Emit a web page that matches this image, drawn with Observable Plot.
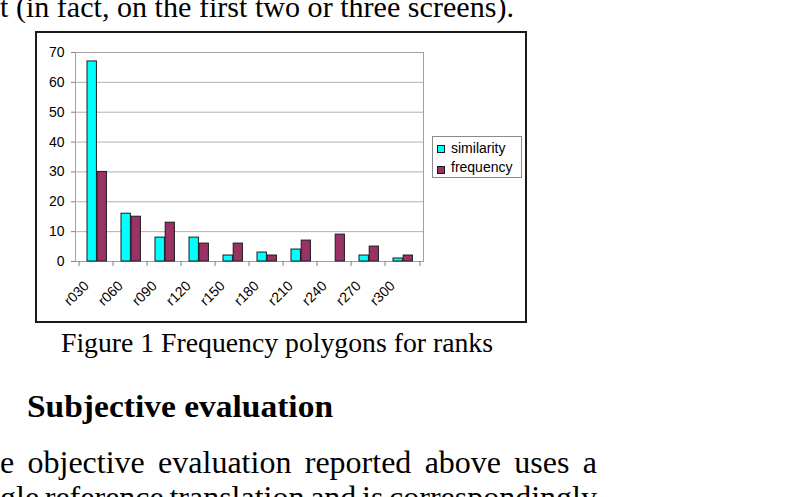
<!DOCTYPE html>
<html>
<head>
<meta charset="utf-8">
<script src="https://cdn.jsdelivr.net/npm/d3@7"></script>
<script src="https://cdn.jsdelivr.net/npm/@observablehq/plot@0.6"></script>
<style>
  html, body { margin: 0; padding: 0; background: #fff; width: 796px; height: 497px; overflow: hidden; position: relative; }
  #page { position: absolute; left: 0; top: 0; }
  #frame { position: absolute; left: 35px; top: 31px; width: 492px; height: 292px; box-sizing: border-box; border: 2px solid #1a1a1a; background: #fff; }
  #chart { position: absolute; left: 0; top: 0; }
  #legend { position: absolute; left: 395px; top: 103px; width: 90px; height: 42px; box-sizing: border-box; border: 1px solid #8a8a8a; background: #fff; font-family: "Liberation Sans", Arial, sans-serif; font-size: 14px; color: #000; }
  #legend .sw { position: absolute; left: 4px; width: 8px; height: 8px; box-sizing: border-box; border: 1px solid #1a1a1a; }
  #legend .lb { position: absolute; left: 18px; line-height: 14px; white-space: nowrap; }
</style>
</head>
<body>
<svg id="page" width="796" height="497"></svg>
<div id="frame"><div id="chart"></div><div id="legend"></div></div>
<script>
// ---- data ----
const categories = ["r030", "r060", "r090", "r120", "r150", "r180", "r210", "r240", "r270", "r300"];
const similarity = [67, 16, 8, 8, 2, 3, 4, 0, 2, 1];
const frequency  = [30, 15, 13, 6, 6, 2, 7, 9, 5, 2];
const seriesNames = ["similarity", "frequency"];
const seriesColors = ["#00FFFF", "#993366"];
const yTicks = [0, 10, 20, 30, 40, 50, 60, 70];

const topLine = "t (in fact, on the first two or three screens).";
const captionText = "Figure 1 Frequency polygons for ranks";
const headingText = "Subjective evaluation";
const bodyLines = ["e objective evaluation reported above uses a", "gle reference translation and is correspondingly"];

// ---- chart ----
const W = 488, H = 288, mL = 38, mR = 102, mT = 19, mB = 60;
const band = (W - mL - mR) / categories.length;

const rows = categories.flatMap((c, i) => [
  {category: c, series: seriesNames[0], value: similarity[i]},
  {category: c, series: seriesNames[1], value: frequency[i]}
]);

const chart = Plot.plot({
  width: W, height: H,
  marginLeft: mL, marginRight: mR, marginTop: mT, marginBottom: mB,
  style: {fontFamily: "'Liberation Sans', Arial, sans-serif", fontSize: "14px", color: "#000", background: "#fff"},
  x: {type: "band", domain: categories, padding: 0, axis: null},
  y: {domain: [0, 70], axis: null},
  color: {domain: seriesNames, range: seriesColors},
  marks: [
    Plot.gridY(yTicks, {stroke: "#b0b0b0", strokeOpacity: 1}),
    Plot.frame({stroke: "#a0a0a0"}),
    Plot.axisY({ticks: yTicks, label: null, tickSize: 4, tickPadding: 7, stroke: "#808080", fill: "#000", fontSize: 14}),
    Plot.ruleX(categories, {x: d => d, y1: 0, y2: 0, dx: -band / 2, insetBottom: -5, stroke: "#808080"}),
    Plot.ruleX(categories.slice(-1), {x: d => d, y1: 0, y2: 0, dx: band / 2, insetBottom: -5, stroke: "#808080"}),
    Plot.barY(rows.filter(d => d.series === seriesNames[0] && d.value > 0),
      {x: "category", y: "value", fill: "series", stroke: "#1a1a1a", strokeWidth: 1, insetLeft: 8, insetRight: band - 18.2}),
    Plot.barY(rows.filter(d => d.series === seriesNames[1] && d.value > 0),
      {x: "category", y: "value", fill: "series", stroke: "#1a1a1a", strokeWidth: 1, insetLeft: 18.2, insetRight: band - 28.2}),
    Plot.text(categories, {x: d => d, frameAnchor: "bottom", dx: -10, dy: 22, rotate: -45, textAnchor: "end", lineAnchor: "middle", fontSize: 14, fill: "#000"})
  ]
});
document.getElementById("chart").append(chart);

// ---- legend ----
const legend = document.getElementById("legend");
seriesNames.forEach((name, i) => {
  const sw = document.createElement("div");
  sw.className = "sw";
  sw.style.top = (8 + i * 21) + "px";
  sw.style.background = seriesColors[i];
  const lb = document.createElement("div");
  lb.className = "lb";
  lb.style.top = (3.5 + i * 19.5) + "px";
  lb.textContent = name;
  legend.append(sw, lb);
});

// ---- surrounding page text ----
const ns = "http://www.w3.org/2000/svg";
const page = document.getElementById("page");
function place(t) {
  const el = document.createElementNS(ns, "text");
  el.setAttribute("x", t.x);
  el.setAttribute("y", t.y);
  el.setAttribute("font-family", "'Liberation Serif', 'Times New Roman', serif");
  el.setAttribute("font-size", t.size);
  if (t.bold) el.setAttribute("font-weight", "bold");
  el.setAttribute("fill", "#000");
  el.textContent = t.text;
  page.append(el);
  const L = el.getComputedTextLength();
  if (t.justify) {
    const n = (t.text.match(/ /g) || []).length;
    el.style.wordSpacing = ((t.w - L) / n) + "px";
  } else {
    el.setAttribute("textLength", t.w);
    el.setAttribute("lengthAdjust", "spacingAndGlyphs");
  }
}
place({text: topLine, x: 0, y: 17, size: 30, w: 514});
place({text: captionText, x: 61, y: 352, size: 28, w: 432});
place({text: headingText, x: 27, y: 417, size: 32, w: 306, bold: true});
place({text: bodyLines[0], x: 0, y: 473, size: 32, w: 597, justify: true});
place({text: bodyLines[1], x: 0, y: 508, size: 32, w: 597, justify: true});
</script>
</body>
</html>
